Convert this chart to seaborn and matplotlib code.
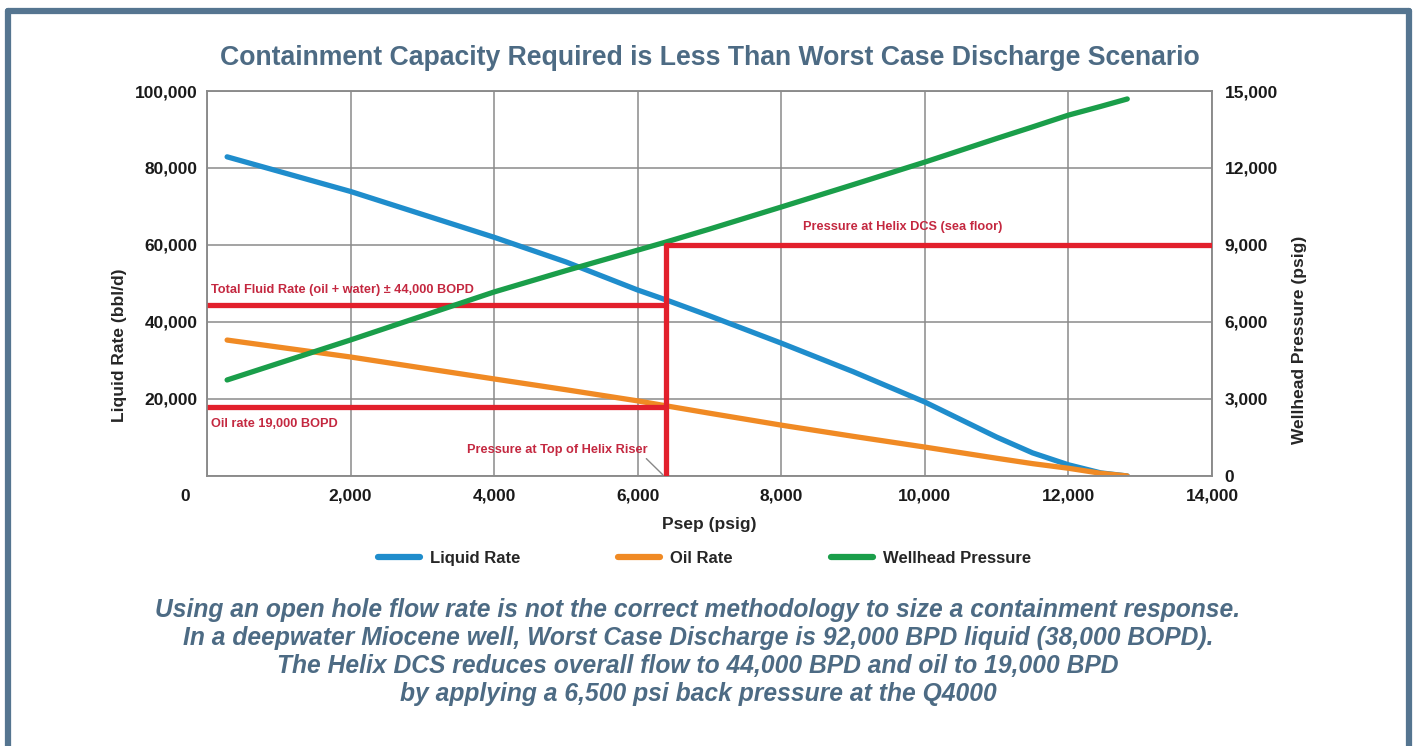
import pandas as pd
import seaborn as sb
import matplotlib.pyplot as plt
from matplotlib.lines import Line2D
from matplotlib.ticker import FuncFormatter

# данные
psep = [280, 2000, 4000, 5000, 6000, 6400, 7000, 8000, 9000, 10000, 11000, 11500, 12000, 12450, 12820]
liquid_rate = [82900, 73900, 62000, 55600, 48300, 45700, 41600, 34500, 27100, 19200, 10100, 6000, 2900, 800, 0]
oil_rate = [35300, 30900, 25200, 22400, 19500, 18200, 16300, 13200, 10300, 7500, 4600, 3200, 2000, 700, 0]
wellhead_pressure = [3740, 5300, 7170, 8000, 8800, 9120, 9620, 10480, 11350, 12230, 13150, 13600, 14060, 14400, 14690]

total_fluid = 44500
oil_target = 18000
riser_psep = 6400
dcs_pressure = 9000

title = 'Containment Capacity Required is Less Than Worst Case Discharge Scenario'
caption = ('Using an open hole flow rate is not the correct methodology to size a containment response.\n'
           'In a deepwater Miocene well, Worst Case Discharge is 92,000 BPD liquid (38,000 BOPD).\n'
           'The Helix DCS reduces overall flow to 44,000 BPD and oil to 19,000 BPD\n'
           'by applying a 6,500 psi back pressure at the Q4000')

df = pd.DataFrame({'psep': psep, 'liquid': liquid_rate, 'oil': oil_rate, 'wellhead': wellhead_pressure})

sb.set_style('white')
plt.rcParams['font.family'] = ['Liberation Sans', 'DejaVu Sans']
plt.rcParams['font.weight'] = 'bold'

blue = '#1f8dcc'
orange = '#f08a24'
green = '#1a9e4a'
red = '#e2202c'
red_text = '#c42840'
slate = '#4d6b84'
grid_c = '#8a8a8a'

fig = plt.figure(figsize=(14.17, 7.46), dpi=100)
ax = fig.add_axes([0.1461, 0.362, 0.7092, 0.516])
ax2 = ax.twinx()

sb.lineplot(data=df, x='psep', y='liquid', ax=ax, color=blue, lw=3.8, legend=False)
sb.lineplot(data=df, x='psep', y='oil', ax=ax, color=orange, lw=3.8, legend=False)
sb.lineplot(data=df, x='psep', y='wellhead', ax=ax2, color=green, lw=3.8, legend=False)

# красные линии
ax.plot([0, riser_psep], [total_fluid, total_fluid], color=red, lw=3.8, zorder=5)
ax.plot([0, riser_psep], [oil_target, oil_target], color=red, lw=3.8, zorder=5)
ax2.plot([riser_psep, riser_psep], [0, dcs_pressure], color=red, lw=3.8, zorder=5)
ax2.plot([riser_psep, 14000], [dcs_pressure, dcs_pressure], color=red, lw=3.8, zorder=5)

ax.set_xlim(0, 14000)
ax.set_ylim(0, 100000)
ax2.set_ylim(0, 15000)
ax.set_xticks(range(0, 14001, 2000))
ax.set_yticks(range(0, 100001, 20000))
ax2.set_yticks(range(0, 15001, 3000))
no_zero = FuncFormatter(lambda v, p: '' if v == 0 else f'{int(v):,}')
ax.xaxis.set_major_formatter(no_zero)
ax.yaxis.set_major_formatter(no_zero)
ax2.yaxis.set_major_formatter(FuncFormatter(lambda v, p: f'{int(v):,}'))
ax.text(-300, -0.0545, '0', transform=ax.get_xaxis_transform(), ha='center', va='center',
        fontsize=12.5, fontweight='bold', color='#1a1a1a')

ax.grid(True, color=grid_c, lw=1.1)
ax.set_axisbelow(True)
for a in (ax, ax2):
    for s in a.spines.values():
        s.set_color(grid_c)
        s.set_linewidth(1.1)
    a.tick_params(length=0, labelsize=12.5, colors='#1a1a1a')
ax.tick_params(axis='y', pad=7)
ax.tick_params(axis='x', pad=9)
ax2.tick_params(axis='y', pad=9)

ax.set_xlabel('Psep (psig)', fontsize=12.5, fontweight='bold', labelpad=10)
ax.set_ylabel('Liquid Rate (bbl/d)', fontsize=12.5, fontweight='bold')
ax2.set_ylabel('Wellhead Pressure (psig)', fontsize=12.5, fontweight='bold')
ax.yaxis.set_label_coords(-0.0796, 0.34)
ax2.yaxis.set_label_coords(1.0796, 0.353)

# подписи
ax.text(60, total_fluid + 2200, 'Total Fluid Rate (oil + water) \u00b1 44,000 BOPD', color=red_text,
        fontsize=9.2, fontweight='bold', va='bottom')
ax.text(60, oil_target - 3000, 'Oil rate 19,000 BOPD', color=red_text, fontsize=9.2, fontweight='bold', va='top')
ax.text(3620, 6800, 'Pressure at Top of Helix Riser', color=red_text, fontsize=9.2, fontweight='bold', va='center')
ax.plot([6120, riser_psep - 50], [4500, 300], color='#888888', lw=1)
ax2.text(8300, dcs_pressure + 450, 'Pressure at Helix DCS (sea floor)', color=red_text,
         fontsize=9.2, fontweight='bold', ha='left', va='bottom')

handles = [Line2D([], [], color=c, lw=4.5) for c in (blue, orange, green)]
fig.legend(handles, ['Liquid Rate', 'Oil Rate', 'Wellhead Pressure'], loc='center', bbox_to_anchor=(0.497, 0.252),
           ncol=3, frameon=False, fontsize=12, handlelength=2.5, columnspacing=5.9, handletextpad=0.6)

fig.text(0.501, 0.9223, title, ha='center', va='center', fontsize=19.2, fontweight='bold', color=slate)
fig.text(0.4926, 0.126, caption, ha='center', va='center', fontsize=17.7, fontweight='bold', style='italic',
         color=slate, linespacing=1.2)

# рамка
for xs, ys in (([0.0055, 0.0055], [0, 0.985]), ([0.0055, 0.9945], [0.985, 0.985]), ([0.9945, 0.9945], [0.985, 0])):
    fig.add_artist(Line2D(xs, ys, color='#557590', lw=4.5, transform=fig.transFigure))

fig.savefig('out.png', dpi=100)
